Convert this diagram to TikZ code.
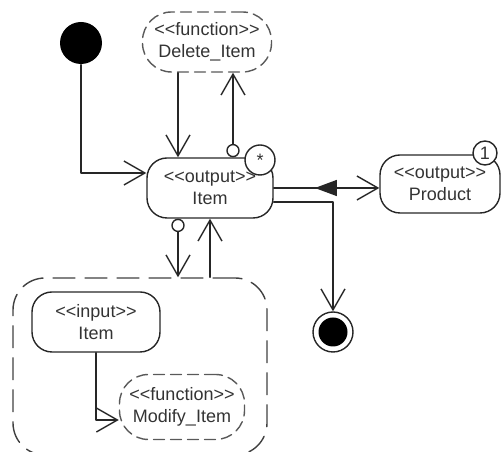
\documentclass[tikz,border=0pt]{standalone}
\usepackage{fontspec}
\setmainfont{Liberation Sans}
\usetikzlibrary{arrows.meta}
\usetikzlibrary{positioning}
\usetikzlibrary{decorations.markings}

\newcommand{\stereo}[1]{{<}{<}#1{>}{>}}

\begin{document}
\begin{tikzpicture}[x=1pt,y=1pt,line cap=round,line join=round,line width=1.4pt,black!85,
  >={Straight Barb[length=21pt,width=24pt]},
  every node/.style={font=\fontsize{18}{22}\selectfont,text=black!80},
  pinbox/.style={draw,rounded corners=20pt,minimum width=126pt,minimum height=60pt,align=center,inner sep=0pt},
  funcbox/.style={draw=black!65,dash pattern=on 11pt off 6pt,rounded corners=29pt,minimum height=62pt,align=center,inner sep=0pt},
  regionbox/.style={draw=black!75,dash pattern=on 22pt off 10pt,rounded corners=32pt,minimum width=254pt,minimum height=177pt},
  ballmark/.style={draw,circle,fill=white,inner sep=0pt},
  startdot/.style={circle,fill=black,minimum size=42pt,inner sep=0pt},
  midarrow/.style={postaction={decorate},decoration={markings,
    mark=at position 0.39 with {\arrowreversed{Triangle[length=22pt,width=16pt]}}}}]
\useasboundingbox (0,0) rectangle (501,452);
% start and end of the activity
\node[startdot] (start) at (81,409) {};
\node[circle,draw,minimum size=40pt,inner sep=0pt] (final) at (333,120) {};
\node[startdot,minimum size=29pt] at (final) {};
% object nodes
\node[pinbox] (item) at (210,264) {\stereo{output}\\Item};
\node[pinbox,minimum width=120pt,minimum height=58pt] (product) at (440,268) {\stereo{output}\\Product};
\node[funcbox,minimum width=129pt,minimum height=60pt] (delete) at (207,410) {\stereo{function}\\Delete\_Item};
% expansion region
\node[regionbox] (region) at (140,85.5) {};
\node[pinbox,minimum width=128pt] (input) at (96,130) {\stereo{input}\\Item};
\node[funcbox,minimum width=125pt,minimum height=65pt] (modify) at (182,45) {\stereo{function}\\Modify\_Item};
% pins and multiplicities
\node[ballmark,minimum size=12pt,anchor=south] (delpin) at ([xshift=23pt]item.north) {};
\node[ballmark,minimum size=12pt,anchor=north] (modpin) at ([xshift=-32pt]item.south) {};
\node[ballmark,minimum size=30pt] (many) at (260,292) {*};
\node[ballmark,minimum size=24pt] (one) at (485,299) {1};
% flows
\draw[->] (start) |- ([yshift=15pt]item.west);
\draw[->] ([xshift=-29pt]delete.south) -- ([xshift=-32pt]item.north);
\draw[->] (delpin) -- (delpin |- delete.south);
\draw[->,midarrow] (item.east) -- (item.east -| product.west);
\draw[->] ([yshift=-14pt]item.east) -| (final);
\draw[->] (modpin) -- (modpin |- region.north);
\draw[->] (item.south |- region.north) -- (item.south);
\draw[->] (input.south) |- ([yshift=-13pt]modify.west);
\end{tikzpicture}
\end{document}
